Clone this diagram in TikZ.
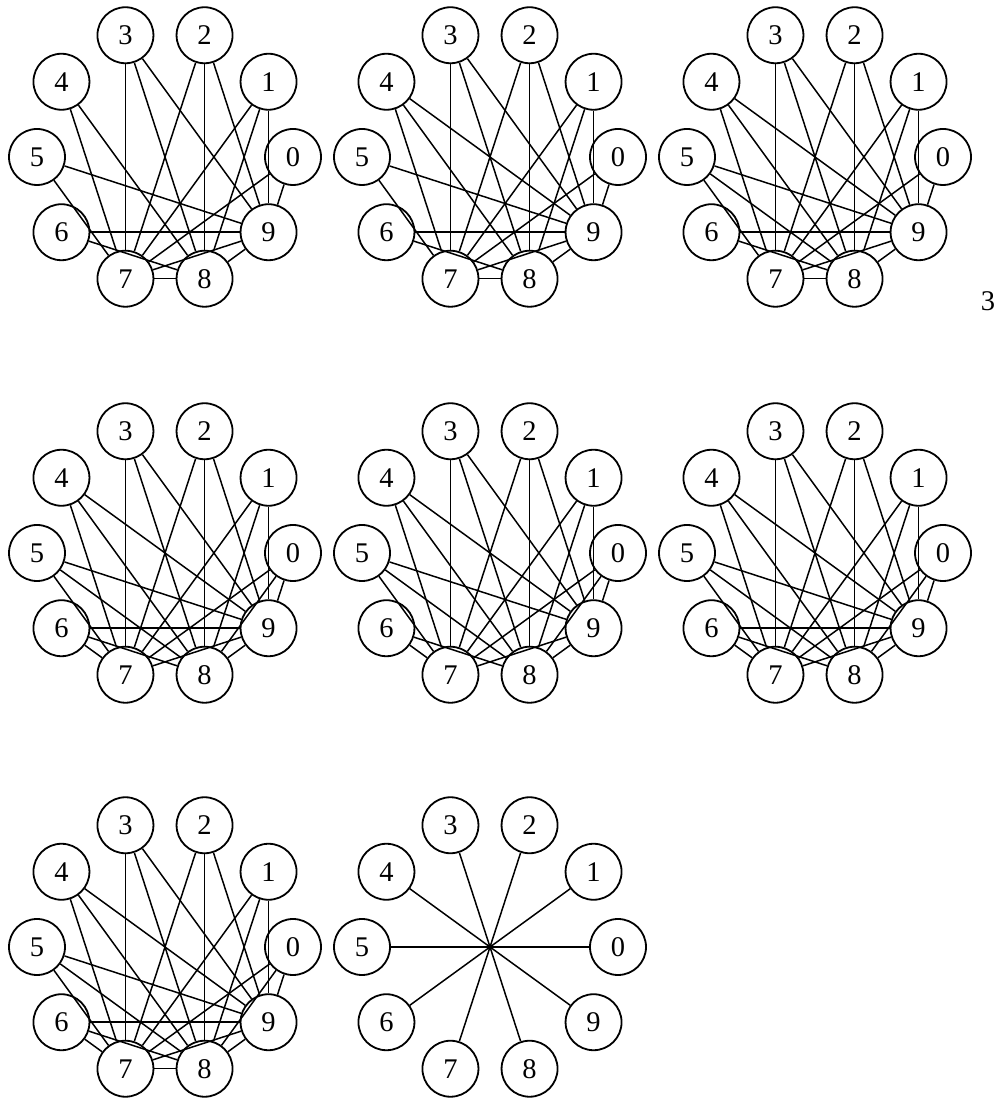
\documentclass[tikz,border=0pt]{standalone}
\usepackage{fontspec}
\setmainfont{Liberation Serif}
\newcommand{\ringgraph}[4]{%
  \begin{scope}[shift={(#2,#3)}]
    \foreach \k in {0,...,9} \node[vtx] (#1-\k) at (36*\k:128) {\k};
    \foreach \a/\b in {#4} \draw[edge] (#1-\a) -- (#1-\b);
  \end{scope}}
\begin{document}
\begin{tikzpicture}[x=1pt,y=1pt,
  vtx/.style={circle,draw,line width=1.8pt,minimum size=56pt,inner sep=0pt,font=\fontsize{28.5}{30}\selectfont},
  edge/.style={line width=1.5pt},
  lbl/.style={font=\fontsize{28.5}{30}\selectfont,inner sep=0pt}]
\useasboundingbox (0,0) rectangle (998,1099);
% row 1
\ringgraph{ga}{165}{942}{0/7,0/9,1/7,1/8,1/9,2/7,2/8,2/9,3/7,3/8,3/9,4/7,4/8,5/7,5/9,6/8,6/9,7/8,7/9,8/9}
\ringgraph{gb}{490}{942}{0/7,0/9,1/7,1/8,1/9,2/7,2/8,2/9,3/7,3/8,3/9,4/7,4/8,4/9,5/7,5/9,6/8,6/9,7/8,7/9,8/9}
\ringgraph{gc}{815}{942}{0/7,0/9,1/7,1/8,1/9,2/7,2/8,2/9,3/7,3/8,3/9,4/7,4/8,4/9,5/7,5/8,5/9,6/8,6/9,7/8,7/9,8/9}
% row 2
\ringgraph{gd}{165}{546}{0/7,0/8,0/9,1/7,1/8,1/9,2/7,2/8,2/9,3/7,3/8,3/9,4/7,4/8,4/9,5/7,5/8,5/9,6/7,6/8,6/9,7/9,8/9}
\ringgraph{ge}{490}{546}{0/7,0/8,0/9,1/7,1/8,1/9,2/7,2/8,2/9,3/7,3/8,3/9,4/7,4/8,4/9,5/7,5/8,5/9,6/7,6/8,7/9,8/9}
\ringgraph{gf}{815}{546}{0/7,0/8,0/9,1/7,1/8,1/9,2/7,2/8,2/9,3/7,3/8,3/9,4/7,4/8,4/9,5/7,5/8,5/9,6/7,6/8,6/9,7/9,8/9}
% row 3
\ringgraph{gg}{165}{152}{0/7,0/8,0/9,1/7,1/8,1/9,2/7,2/8,2/9,3/7,3/8,3/9,4/7,4/8,4/9,5/7,5/8,5/9,6/7,6/8,6/9,7/8,7/9,8/9}
\ringgraph{gh}{490}{152}{0/5,1/6,2/7,3/8,4/9}
\node[lbl] (extra) at (988,798) {3};
\end{tikzpicture}
\end{document}
